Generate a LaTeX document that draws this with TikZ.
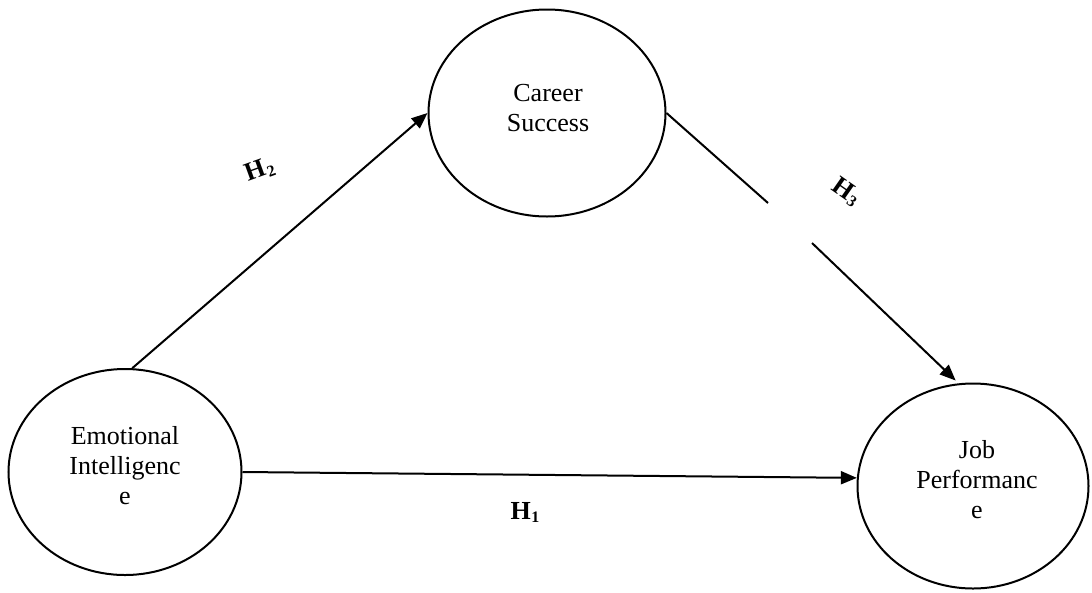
\documentclass[tikz,border=0pt]{standalone}
\usepackage{fontspec}
\setmainfont{Liberation Serif}
\usetikzlibrary{shapes.geometric,arrows.meta}
\newcommand{\hlab}[1]{H\kern0.5pt\raisebox{-3pt}{\fontsize{16}{16}\selectfont #1}}
\tikzset{
  oval/.style={ellipse, draw=black, line width=2pt, inner sep=0pt},
  lbl/.style={align=center, font=\fontsize{26}{30}\selectfont, inner sep=0pt},
  hyp/.style={font=\bfseries\fontsize{26}{30}\selectfont, inner sep=0pt},
  conn/.style={line width=2pt, draw=black},
  arr/.style={conn, -{Triangle[length=16pt,width=13pt]}},
}
\begin{document}
\begin{tikzpicture}[x=1pt,y=-1pt]
\useasboundingbox (0,0) rectangle (1092,592);
% ellipses
\node[oval, minimum width=233pt, minimum height=206pt] (ei) at (125,472) {};
\node[oval, minimum width=237pt, minimum height=207pt] (cs) at (547,113) {};
\node[oval, minimum width=231pt, minimum height=205pt] (jp) at (973,486) {};
% texts
\node[lbl] (eit) at (125,466) {Emotional\\Intelligenc\\e};
\node[lbl] (cst) at (548,108) {Career\\Success};
\node[lbl] (jpt) at (977,480) {Job\\Performanc\\e};
% connectors
\draw[arr] (ei.86) -- (cs.west);
\coordinate (g3a) at (768,203);
\coordinate (g3b) at (812,243);
\draw[conn] (cs.east) -- (g3a);
\draw[arr, shorten >=4pt] (g3b) -- (jp.98);
\draw[arr] (ei.east) -- (jp.176);
% hypothesis labels
\node[hyp, rotate=20] (h2) at (260,170) {\hlab{2}};
\node[hyp, rotate=-35] (h3) at (846,192) {\hlab{3}};
\node[hyp] (h1) at (525,512) {\hlab{1}};
\end{tikzpicture}
\end{document}
